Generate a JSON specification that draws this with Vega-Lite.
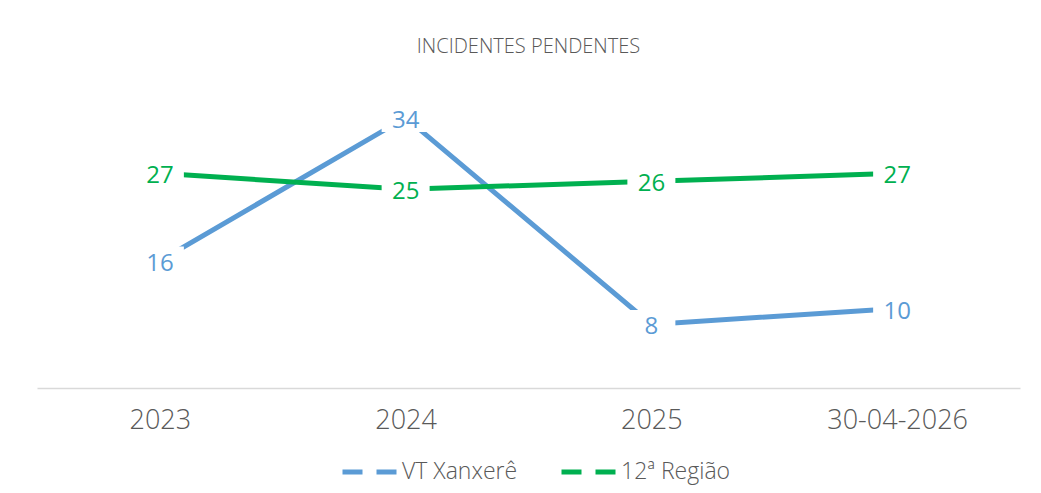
{
  "$schema": "https://vega.github.io/schema/vega-lite/v6.json",
  "autosize": {"type": "none"},
  "width": 983,
  "height": 318,
  "padding": {"left": 37, "top": 70, "right": 21, "bottom": 105},
  "background": "white",
  "config": {
    "view": {"stroke": null},
    "font": "Open Sans"
  },
  "title": {
    "text": "INCIDENTES PENDENTES",
    "fontSize": 20,
    "fontWeight": 300,
    "color": "#595959",
    "font": "Open Sans",
    "anchor": "middle",
    "offset": 13
  },
  "data": {
    "values": [
      {"periodo": "2023", "serie": "VT Xanxerê", "valor": 16},
      {"periodo": "2024", "serie": "VT Xanxerê", "valor": 34},
      {"periodo": "2025", "serie": "VT Xanxerê", "valor": 8},
      {"periodo": "30-04-2026", "serie": "VT Xanxerê", "valor": 10},
      {"periodo": "2023", "serie": "12ª Região", "valor": 27},
      {"periodo": "2024", "serie": "12ª Região", "valor": 25},
      {"periodo": "2025", "serie": "12ª Região", "valor": 26},
      {"periodo": "30-04-2026", "serie": "12ª Região", "valor": 27}
    ]
  },
  "encoding": {
    "x": {
      "field": "periodo",
      "type": "ordinal",
      "sort": null,
      "scale": {"type": "point", "padding": 0.5},
      "axis": {
        "title": null,
        "labelAngle": 0,
        "ticks": false,
        "domainColor": "#D9D9D9",
        "domainWidth": 1.5,
        "labelFontSize": 27,
        "labelFont": "Open Sans",
        "labelFontWeight": 300,
        "labelColor": "#595959",
        "labelPadding": 19,
        "grid": false
      }
    },
    "y": {
      "field": "valor",
      "type": "quantitative",
      "scale": {"domain": [0, 40], "nice": false, "zero": true},
      "axis": null
    }
  },
  "layer": [
    {
      "mark": {"type": "line", "strokeWidth": 5, "strokeCap": "butt"},
      "encoding": {
        "color": {
          "field": "serie",
          "type": "nominal",
          "sort": ["VT Xanxerê", "12ª Região"],
          "scale": {"domain": ["VT Xanxerê", "12ª Região"], "range": ["#5B9BD5", "#00B050"]},
          "legend": {
            "title": null,
            "orient": "none",
            "legendX": 303,
            "legendY": 371,
            "direction": "horizontal",
            "symbolType": "stroke",
            "symbolSize": 3249,
            "symbolStrokeWidth": 5,
            "symbolDash": [20, 14],
            "labelFontSize": 23,
            "labelFont": "Open Sans",
            "labelFontWeight": 300,
            "labelColor": "#595959",
            "labelOffset": 0,
            "columnPadding": 33
          }
        }
      }
    },
    {
      "mark": {
        "type": "point",
        "shape": "M-1,-0.6H1V0.6H-1Z",
        "size": 2304,
        "filled": true,
        "fill": "white",
        "opacity": 1,
        "strokeWidth": 0
      }
    },
    {
      "mark": {"type": "text", "fontSize": 24, "font": "Open Sans", "baseline": "middle", "align": "center", "dy": 3},
      "encoding": {
        "text": {"field": "valor", "type": "quantitative"},
        "color": {
          "field": "serie",
          "type": "nominal",
          "scale": {"domain": ["VT Xanxerê", "12ª Região"], "range": ["#5B9BD5", "#00B050"]},
          "legend": null
        }
      }
    }
  ]
}
